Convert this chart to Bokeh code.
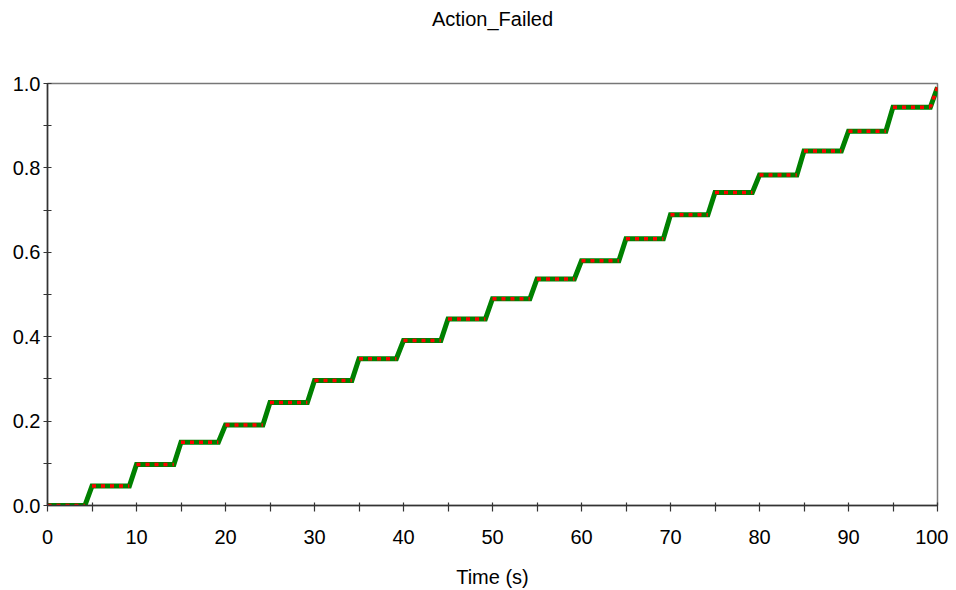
from bokeh.plotting import figure
from bokeh.models import Range1d, FixedTicker, NumeralTickFormatter, Title
from bokeh.embed import file_html
from bokeh.resources import INLINE

# ---- data ----
title_text = "Action_Failed"
x_label = "Time (s)"
time_s = [0, 4.2, 5, 9.2, 10, 14.2, 15, 19.2, 20, 24.2, 25, 29.2, 30, 34.2, 35, 39.2,
          40, 44.2, 45, 49.2, 50, 54.2, 55, 59.2, 60, 64.2, 65, 69.2, 70, 74.2, 75, 79.2,
          80, 84.2, 85, 89.2, 90, 94.2, 95, 99.2, 100]
action_failed = [0.0, 0.0, 0.046, 0.046, 0.097, 0.097, 0.150, 0.150, 0.191, 0.191,
                 0.244, 0.244, 0.296, 0.296, 0.348, 0.348, 0.391, 0.391, 0.442, 0.442,
                 0.490, 0.490, 0.537, 0.537, 0.580, 0.580, 0.632, 0.632, 0.689, 0.689,
                 0.742, 0.742, 0.783, 0.783, 0.840, 0.840, 0.887, 0.887, 0.944, 0.944,
                 0.991]
x_ticks = [0, 10, 20, 30, 40, 50, 60, 70, 80, 90, 100]
x_minor = [5, 15, 25, 35, 45, 55, 65, 75, 85, 95]
y_ticks = [0.0, 0.2, 0.4, 0.6, 0.8, 1.0]
y_minor = [0.1, 0.3, 0.5, 0.7, 0.9]

FONT = "Liberation Sans"
FS = "20px"

p = figure(width=948, height=590, output_backend="svg", toolbar_location=None,
           x_range=Range1d(0, 100), y_range=Range1d(0, 1),
           min_border_left=47, min_border_right=11, min_border_top=83,
           min_border_bottom=84)

# visible title (outermost panel, at the top of the page)
p.title.text = title_text
p.title.align = "center"
p.title.vertical_align = "top"
p.title.standoff = 14
p.title.text_font = FONT
p.title.text_font_size = FS
p.title.text_font_style = "normal"
p.title.text_color = "#000000"

# invisible spacer between the title and the frame
p.add_layout(Title(text=" ", standoff=21, text_font=FONT, text_font_size=FS), "above")

p.xgrid.visible = False
p.ygrid.visible = False
p.outline_line_color = "#777777"
p.outline_line_width = 1.5
p.background_fill_color = "white"
p.border_fill_color = "white"

# green thick step line
p.line(time_s, action_failed, line_color="#008000", line_width=5, line_join="miter")

# red dashed overlay on the flat parts (and the final rise)
flat_xs = [[time_s[i], time_s[i + 1]] for i in range(0, len(time_s) - 1, 2)]
flat_ys = [[action_failed[i], action_failed[i + 1]] for i in range(0, len(time_s) - 1, 2)]
flat_xs.append([time_s[-1], time_s[-2]])
flat_ys.append([action_failed[-1], action_failed[-2]])
p.multi_line(flat_xs, flat_ys, line_color="#FF0000", line_width=3.5, line_dash="4 5")

xa = p.xaxis[0]
xa.ticker = FixedTicker(ticks=x_ticks, minor_ticks=x_minor)
xa.axis_label = x_label
xa.axis_label_text_font = FONT
xa.axis_label_text_font_size = FS
xa.axis_label_text_font_style = "normal"
xa.axis_label_text_color = "#000000"
xa.axis_label_standoff = 19
xa.major_label_text_font = FONT
xa.major_label_text_font_size = FS
xa.major_label_text_color = "#000000"
xa.major_label_standoff = 18
xa.major_tick_in = 3
xa.major_tick_out = 6
xa.minor_tick_in = 3
xa.minor_tick_out = 6

ya = p.yaxis[0]
ya.ticker = FixedTicker(ticks=y_ticks, minor_ticks=y_minor)
ya.formatter = NumeralTickFormatter(format="0.0")
ya.major_label_text_font = FONT
ya.major_label_text_font_size = FS
ya.major_label_text_color = "#000000"
ya.major_label_standoff = 3
ya.major_tick_in = 4
ya.major_tick_out = 4
ya.minor_tick_in = 4
ya.minor_tick_out = 4

for ax in (xa, ya):
    ax.axis_line_color = "#333333"
    ax.axis_line_width = 1.5
    ax.major_tick_line_color = "#333333"
    ax.minor_tick_line_color = "#333333"
    ax.major_tick_line_width = 1.2
    ax.minor_tick_line_width = 1.2

open("out.html", "w").write(file_html(p, INLINE))
